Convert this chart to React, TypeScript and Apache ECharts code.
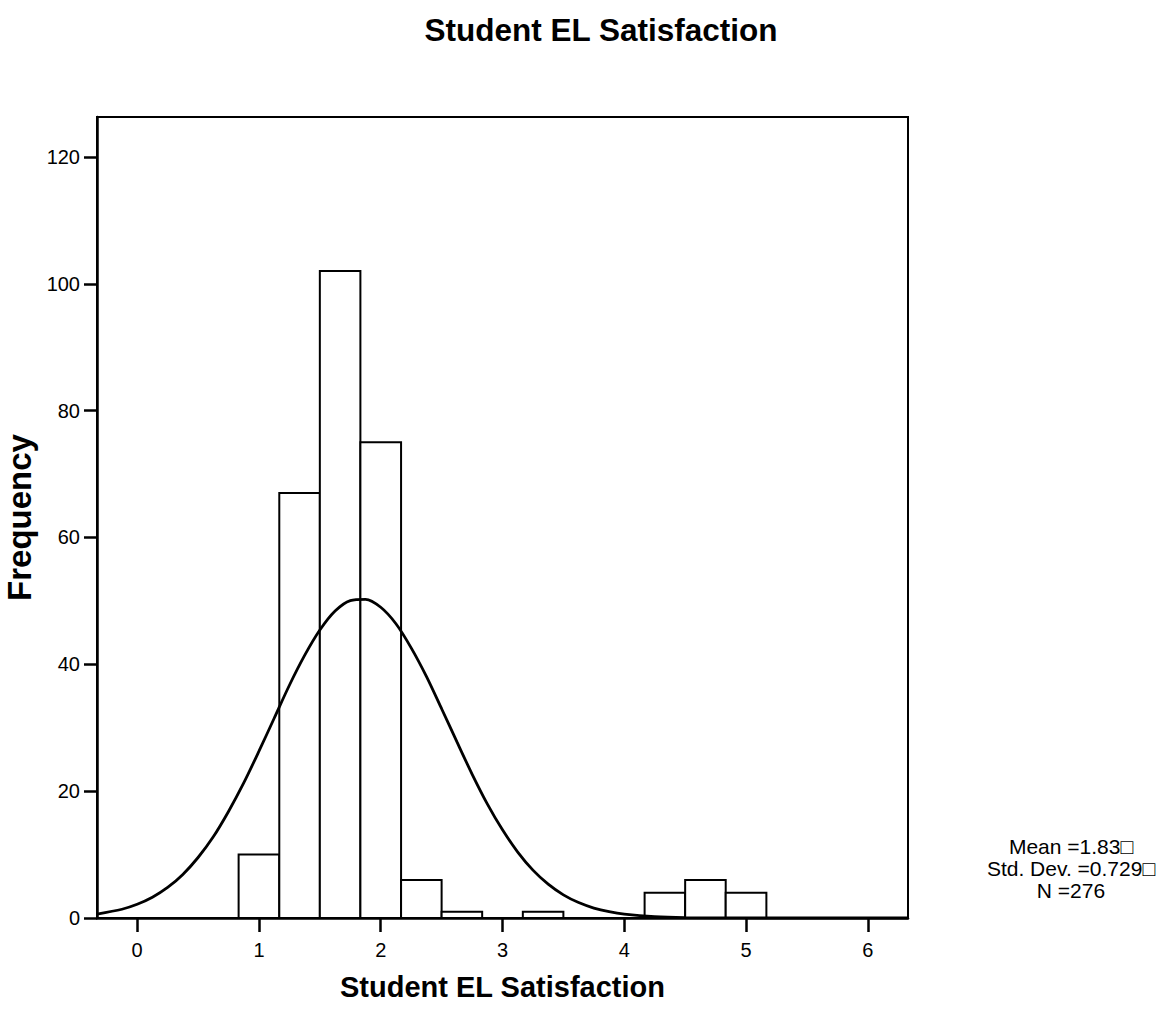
import React, { useEffect, useRef } from "react";
import * as echarts from "echarts";

const title = "Student EL Satisfaction";
const xAxisName = "Student EL Satisfaction";
const yAxisName = "Frequency";

// histogram bins (width 1/3)
const binStart = [0.833, 1.167, 1.5, 1.833, 2.167, 2.5, 2.833, 3.167, 3.5, 3.833, 4.167, 4.5, 4.833];
const binEnd = [1.167, 1.5, 1.833, 2.167, 2.5, 2.833, 3.167, 3.5, 3.833, 4.167, 4.5, 4.833, 5.167];
const frequency = [10, 67, 102, 75, 6, 1, 0, 1, 0, 0, 4, 6, 4];

// normal curve
const curveX = [
  -0.33, -0.125, 0, 0.125, 0.25, 0.375, 0.5, 0.625, 0.75, 0.875, 1.0, 1.125, 1.25, 1.375, 1.5, 1.625,
  1.75, 1.875, 2.0, 2.125, 2.25, 2.375, 2.5, 2.625, 2.75, 2.875, 3.0, 3.125, 3.25, 3.375, 3.5, 3.625,
  3.75, 3.875, 4.0, 4.25, 4.5, 5.0, 5.5, 6.0, 6.33,
];
const curveY = [
  0.62, 1.38, 2.16, 3.27, 4.81, 6.87, 9.54, 12.8, 16.8, 21.3, 26.3, 31.5, 36.7, 41.4, 45.4, 48.4,
  50.05, 50.25, 49.0, 46.4, 42.6, 38.1, 33.0, 27.8, 22.7, 18.0, 13.9, 10.4, 7.55, 5.33, 3.65, 2.43,
  1.57, 0.99, 0.6, 0.2, 0.06, 0.004, 0, 0, 0,
];

const xTicks = [0, 1, 2, 3, 4, 5, 6];
const yTicks = [0, 20, 40, 60, 80, 100, 120];

const statsLines = ["Mean =1.83\u25A1", "Std. Dev. =0.729\u25A1", "N =276"];

const FONT = "'Liberation Sans', Arial, sans-serif";

export default function App() {
  const ref = useRef<HTMLDivElement>(null);
  useEffect(() => {
    if (!ref.current) return;
    const chart = echarts.init(ref.current, undefined, { renderer: "svg" });
    const barData = binStart
      .map((s, i) => [s, binEnd[i], frequency[i]])
      .filter((d) => d[2] > 0);
    chart.setOption({
      animation: false,
      backgroundColor: "#ffffff",
      title: {
        text: title,
        left: 596,
        textAlign: "center",
        top: 9,
        textStyle: { fontFamily: FONT, fontSize: 31.5, fontWeight: "bold", color: "#000" },
      },
      grid: {
        left: 97,
        right: 260,
        top: 117,
        bottom: 95,
        containLabel: false,
        outerBoundsMode: "none",
        show: true,
        borderColor: "#000",
        borderWidth: 2,
        backgroundColor: "transparent",
      },
      xAxis: {
        type: "value",
        min: -0.33,
        max: 6.33,
        name: xAxisName,
        nameLocation: "middle",
        nameGap: 54,
        nameTextStyle: { fontFamily: FONT, fontSize: 29, fontWeight: "bold", color: "#000" },
        axisLine: { show: true, onZero: false, lineStyle: { color: "#000", width: 2.5 } },
        axisTick: { show: true, length: 14, customValues: xTicks, lineStyle: { color: "#000", width: 2.5 } },
        axisLabel: { customValues: xTicks, fontFamily: FONT, fontSize: 20, color: "#000", margin: 22 },
        splitLine: { show: false },
      },
      yAxis: {
        type: "value",
        min: 0,
        max: 126.3,
        name: yAxisName,
        nameLocation: "middle",
        nameGap: 61,
        nameTextStyle: { fontFamily: FONT, fontSize: 33, fontWeight: "bold", color: "#000" },
        axisLine: { show: true, onZero: false, lineStyle: { color: "#000", width: 2.5 } },
        axisTick: { show: true, length: 13, customValues: yTicks, lineStyle: { color: "#000", width: 2.5 } },
        axisLabel: { customValues: yTicks, fontFamily: FONT, fontSize: 20, color: "#000", margin: 17 },
        splitLine: { show: false },
      },
      series: [
        {
          type: "custom",
          data: barData,
          encode: { x: [0, 1], y: 2 },
          renderItem: (params: any, api: any) => {
            const p0 = api.coord([api.value(0), api.value(2)]);
            const p1 = api.coord([api.value(1), 0]);
            return {
              type: "rect",
              shape: { x: p0[0], y: p0[1], width: p1[0] - p0[0], height: p1[1] - p0[1] },
              style: { fill: "#ffffff", stroke: "#000", lineWidth: 2 },
            };
          },
          z: 2,
        },
        {
          type: "line",
          data: curveX.map((x, i) => [x, curveY[i]]),
          smooth: 0.3,
          showSymbol: false,
          symbol: "none",
          lineStyle: { color: "#000", width: 2.8 },
          z: 3,
        },
      ],
      graphic: statsLines.map((t, i) => ({
        type: "text",
        x: 1071,
        y: 846 + i * 22,
        style: {
          text: t,
          textAlign: "center",
          textVerticalAlign: "middle",
          verticalAlign: "middle",
          fontFamily: FONT,
          fontSize: 21,
          fill: "#000",
        },
      })),
    });
    return () => chart.dispose();
  }, []);
  return (
    <div
      ref={ref}
      style={{ position: "absolute", left: 0, top: 0, width: 1168, height: 1013 }}
    />
  );
}
